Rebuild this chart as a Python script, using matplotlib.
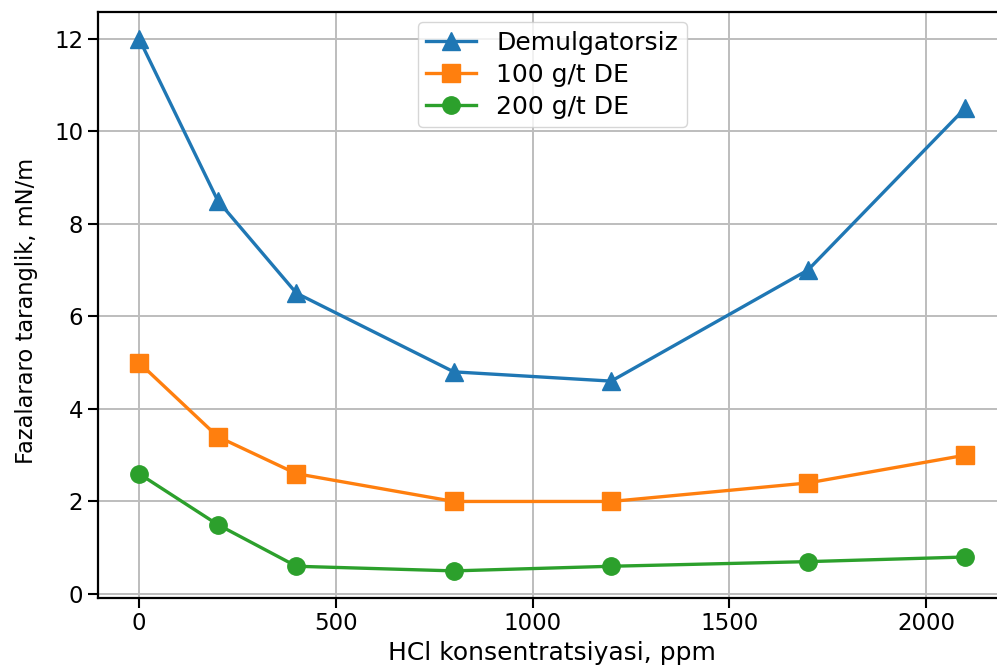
import matplotlib
matplotlib.use("Agg")
import matplotlib.pyplot as plt

x = [0, 200, 400, 800, 1200, 1700, 2100]
demulgatorsiz = [12.0, 8.5, 6.5, 4.8, 4.6, 7.0, 10.5]
de100 = [5.0, 3.4, 2.6, 2.0, 2.0, 2.4, 3.0]
de200 = [2.6, 1.5, 0.6, 0.5, 0.6, 0.7, 0.8]
labels = ["Demulgatorsiz", "100 g/t DE", "200 g/t DE"]

fs = 16.5
fig = plt.figure(figsize=(9.97, 6.65), dpi=100)
ax = fig.add_axes([0.098, 0.1015, 0.9117, 0.8805])
lw = 2.4
ms = 12.5
ax.plot(x, demulgatorsiz, marker="^", color="#1f77b4", lw=lw, ms=ms, label=labels[0])
ax.plot(x, de100, marker="s", color="#ff7f0e", lw=lw, ms=ms, label=labels[1])
ax.plot(x, de200, marker="o", color="#2ca02c", lw=lw, ms=ms, label=labels[2])

ax.set_xlabel("HCl konsentratsiyasi, ppm", fontsize=18, labelpad=4)
ax.set_ylabel("Fazalararo taranglik, mN/m", fontsize=16.3)
ax.yaxis.set_label_coords(-0.066, 0.49)
ax.tick_params(labelsize=fs, width=1.5, length=7)
for s in ax.spines.values():
    s.set_linewidth(1.6)
ax.grid(True, color="#bdbdbd", lw=1.4)
ax.set_xticks([0, 500, 1000, 1500, 2000])
ax.set_yticks([0, 2, 4, 6, 8, 10, 12])
ax.legend(fontsize=18, loc="upper center", framealpha=0.8,
          labelspacing=0.32, borderpad=0.35, borderaxespad=0.4)

fig.savefig("out.png", dpi=100)
